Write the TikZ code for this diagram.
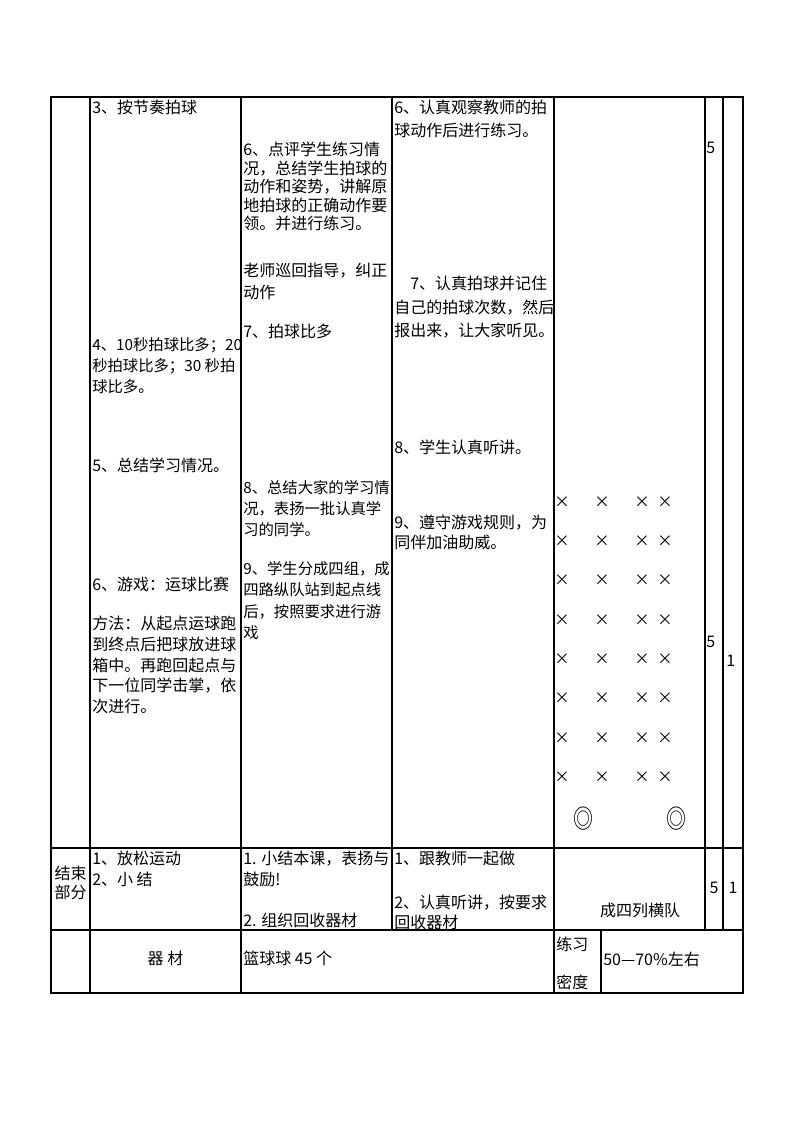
\documentclass[tikz,border=0pt]{standalone}
\usepackage{fontspec}
\setmainfont{Noto Sans CJK SC}
\usepackage{graphicx}
\usetikzlibrary{positioning}

\tikzset{
  rule/.style={line width=1.5pt},
  cell/.style={anchor=north west, inner sep=0pt, align=left, font=\fontsize{12}{#1}\selectfont},
  cell/.default=15.75,
  tight/.style={font=\fontsize{11.5}{#1}\selectfont},
  mid/.style={inner sep=0pt, align=center, font=\fontsize{12}{14.25}\selectfont},
  cross/.style={inner sep=0pt, font=\fontsize{11.5}{12}\selectfont},
  ring/.style={inner sep=0pt, font=\fontsize{15}{16}\selectfont}
}

\begin{document}
\begin{tikzpicture}[x=0.75pt, y=-0.75pt]
  \useasboundingbox (0,0) rectangle (794,1123);

  % table rules
  \draw[rule] (51,97) rectangle (743,993);
  \draw[rule] (51,848) -- (743,848);
  \draw[rule] (51,930) -- (743,930);
  \draw[rule] (90,97) -- (90,993);
  \draw[rule] (241,97) -- (241,993);
  \draw[rule] (392,97) -- (392,930);
  \draw[rule] (554,97) -- (554,993);
  \draw[rule] (705,97) -- (705,930);
  \draw[rule] (723,97) -- (723,930);
  \draw[rule] (601,930) -- (601,993);

  % content column
  \node[cell] (a3) at (92,100) {3、按节奏拍球};
  \node[cell, tight=15.75] (a4) at (92,337) {4、10秒拍球比多；20\\秒拍球比多；30 秒拍\\球比多。};
  \node[cell] (a5) at (92,458) {5、总结学习情况。};
  \node[cell] (a6) at (92,577) {6、游戏：运球比赛};
  \node[cell=15.5] (a6m) at (92,616) {方法：从起点运球跑\\到终点后把球放进球\\箱中。再跑回起点与\\下一位同学击掌，依\\次进行。};

  % teacher column
  \node[cell=13.9] (b6) at (243,142) {6、点评学生练习情\\况，总结学生拍球的\\动作和姿势，讲解原\\地拍球的正确动作要\\领。并进行练习。};
  \node[cell=16.5] (b6g) at (243,263) {老师巡回指导，纠正\\动作};
  \node[cell] (b7) at (243,324) {7、拍球比多};
  \node[cell, tight=15.75] (b8) at (243,480) {8、总结大家的学习情\\况，表扬一批认真学\\习的同学。};
  \node[cell, tight=16.1] (b9) at (243,561) {9、学生分成四组，成\\四路纵队站到起点线\\后，按照要求进行游\\戏};

  % student column
  \node[cell=17.25] (c6) at (394,100) {6、认真观察教师的拍\\球动作后进行练习。};
  \node[cell=17.6] (c7) at (394,276) {\hspace*{12pt}7、认真拍球并记住\\自己的拍球次数，然后\\报出来，让大家听见。};
  \node[cell] (c8) at (394,440) {8、学生认真听讲。};
  \node[cell=15] (c9) at (394,515) {9、遵守游戏规则，为\\同伴加油助威。};

  % formation
  \foreach \r in {0,...,7}
    \foreach \cx in {562,602,642,665}
      \node[cross] (x\r-\cx) at (\cx,{502+39.3*\r}) {×};
  \node[ring] (o1) at (583,819) {\scalebox{1}[1.3]{◎}};
  \node[ring] (o2) at (676,819) {\scalebox{1}[1.3]{◎}};

  % time and count
  \node[cell] (t1) at (706,142) {5};
  \node[cell] (t2) at (706,636) {5};
  \node[cell] (n2) at (726,655) {1};

  % closing part
  \node[mid] (e1) at (70.5,883) {结束\\部分};
  \node[cell] (e2) at (92,851) {1、放松运动\\2、小 结};
  \node[cell] (e3) at (243,851) {1. 小结本课，表扬与\\鼓励!};
  \node[cell] (e3b) at (243,913) {2. 组织回收器材};
  \node[cell] (e4) at (394,851) {1、跟教师一起做};
  \node[cell=15] (e4b) at (394,895) {2、认真听讲，按要求\\回收器材};
  \node[mid] (e5) at (640,910) {成四列横队};
  \node[mid] (e6) at (714,888) {5};
  \node[mid] (e7) at (733,888) {1};

  % equipment row
  \node[mid] (f2) at (165.5,958) {器 材};
  \node[mid, anchor=west] (f3) at (243,958) {篮球球 45 个};
  \node[mid, anchor=west] (f4a) at (556,944) {练习};
  \node[mid, anchor=west] (f4b) at (556,982) {密度};
  \node[mid, anchor=west] (f5) at (603,959) {50—70\%左右};
\end{tikzpicture}
\end{document}
